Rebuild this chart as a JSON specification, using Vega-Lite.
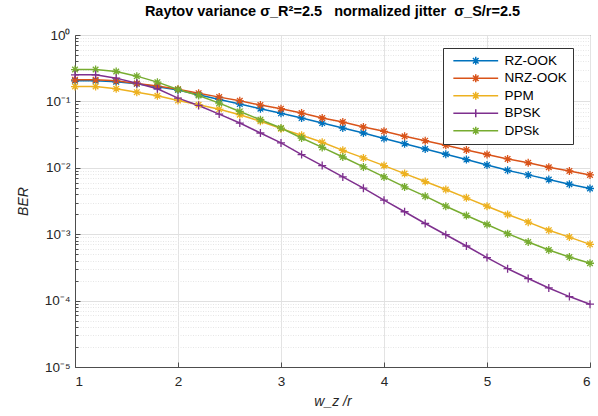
{
  "$schema": "https://vega.github.io/schema/vega-lite/v6.json",
  "width": 515,
  "height": 332,
  "padding": {"left": 16, "top": 3, "right": 5, "bottom": 5},
  "background": "white",
  "config": {
    "view": {"stroke": "#4d4d4d", "strokeWidth": 1},
    "font": "Liberation Sans",
    "axis": {"labelColor": "#262626", "titleColor": "#262626", "labelFontSize": 13.5, "domainColor": "#4d4d4d", "tickColor": "#4d4d4d"}
  },
  "title": {
    "text": "Raytov variance σ_R²=2.5\u00a0\u00a0\u00a0normalized jitter\u00a0\u00a0σ_S/r=2.5",
    "font": "Liberation Sans",
    "fontSize": 14.5,
    "fontWeight": "bold",
    "color": "#000000",
    "offset": 9
  },
  "data": {
    "values": [
      {"x": 1.0, "RZ-OOK": 0.204, "NRZ-OOK": 0.211, "PPM": 0.1675, "BPSK": 0.251, "DPSk": 0.302},
      {"x": 1.2, "RZ-OOK": 0.204, "NRZ-OOK": 0.211, "PPM": 0.1675, "BPSK": 0.251, "DPSk": 0.302},
      {"x": 1.4, "RZ-OOK": 0.197, "NRZ-OOK": 0.204, "PPM": 0.1545, "BPSK": 0.224, "DPSk": 0.282},
      {"x": 1.6, "RZ-OOK": 0.184, "NRZ-OOK": 0.186, "PPM": 0.1377, "BPSK": 0.188, "DPSk": 0.240},
      {"x": 1.8, "RZ-OOK": 0.166, "NRZ-OOK": 0.170, "PPM": 0.1213, "BPSK": 0.155, "DPSk": 0.195},
      {"x": 2.0, "RZ-OOK": 0.148, "NRZ-OOK": 0.153, "PPM": 0.1035, "BPSK": 0.112, "DPSk": 0.151},
      {"x": 2.2, "RZ-OOK": 0.126, "NRZ-OOK": 0.133, "PPM": 0.0891, "BPSK": 0.0869, "DPSk": 0.1227},
      {"x": 2.4, "RZ-OOK": 0.107, "NRZ-OOK": 0.116, "PPM": 0.0759, "BPSK": 0.0644, "DPSk": 0.0942},
      {"x": 2.6, "RZ-OOK": 0.0912, "NRZ-OOK": 0.102, "PPM": 0.0631, "BPSK": 0.0472, "DPSk": 0.0706},
      {"x": 2.8, "RZ-OOK": 0.0776, "NRZ-OOK": 0.0881, "PPM": 0.0501, "BPSK": 0.0334, "DPSk": 0.0530},
      {"x": 3.0, "RZ-OOK": 0.0661, "NRZ-OOK": 0.0776, "PPM": 0.0389, "BPSK": 0.0237, "DPSk": 0.0397},
      {"x": 3.2, "RZ-OOK": 0.0561, "NRZ-OOK": 0.0667, "PPM": 0.0309, "BPSK": 0.0158, "DPSk": 0.0281},
      {"x": 3.4, "RZ-OOK": 0.0472, "NRZ-OOK": 0.0562, "PPM": 0.0242, "BPSK": 0.0108, "DPSk": 0.0203},
      {"x": 3.6, "RZ-OOK": 0.0397, "NRZ-OOK": 0.0489, "PPM": 0.0183, "BPSK": 0.00729, "DPSk": 0.01455},
      {"x": 3.8, "RZ-OOK": 0.0334, "NRZ-OOK": 0.0411, "PPM": 0.0141, "BPSK": 0.00493, "DPSk": 0.0103},
      {"x": 4.0, "RZ-OOK": 0.0277, "NRZ-OOK": 0.0354, "PPM": 0.0108, "BPSK": 0.00325, "DPSk": 0.00729},
      {"x": 4.2, "RZ-OOK": 0.0231, "NRZ-OOK": 0.0298, "PPM": 0.00818, "BPSK": 0.00218, "DPSk": 0.00516},
      {"x": 4.4, "RZ-OOK": 0.0192, "NRZ-OOK": 0.0256, "PPM": 0.00621, "BPSK": 0.00145, "DPSk": 0.00374},
      {"x": 4.6, "RZ-OOK": 0.0160, "NRZ-OOK": 0.0218, "PPM": 0.00471, "BPSK": 0.000982, "DPSk": 0.00264},
      {"x": 4.8, "RZ-OOK": 0.0133, "NRZ-OOK": 0.0186, "PPM": 0.00353, "BPSK": 0.000664, "DPSk": 0.00191},
      {"x": 5.0, "RZ-OOK": 0.0110, "NRZ-OOK": 0.01585, "PPM": 0.00264, "BPSK": 0.000444, "DPSk": 0.00140},
      {"x": 5.2, "RZ-OOK": 0.00916, "NRZ-OOK": 0.0136, "PPM": 0.00198, "BPSK": 0.000303, "DPSk": 0.00102},
      {"x": 5.4, "RZ-OOK": 0.00782, "NRZ-OOK": 0.0119, "PPM": 0.00152, "BPSK": 0.000215, "DPSk": 0.000762},
      {"x": 5.6, "RZ-OOK": 0.00665, "NRZ-OOK": 0.0102, "PPM": 0.00115, "BPSK": 0.000155, "DPSk": 0.000578},
      {"x": 5.8, "RZ-OOK": 0.00565, "NRZ-OOK": 0.00897, "PPM": 0.000904, "BPSK": 0.000115, "DPSk": 0.000453},
      {"x": 6.0, "RZ-OOK": 0.00488, "NRZ-OOK": 0.00782, "PPM": 0.000703, "BPSK": 0.0000883, "DPSk": 0.000365}
    ]
  },
  "transform": [
    {"fold": ["RZ-OOK", "NRZ-OOK", "PPM", "BPSK", "DPSk"], "as": ["series", "ber"]}
  ],
  "encoding": {
    "x": {
      "field": "x",
      "type": "quantitative",
      "scale": {"domain": [1, 6], "nice": false, "zero": false},
      "axis": {
        "values": [1, 2, 3, 4, 5, 6],
        "format": "d",
        "title": "w_z /r",
        "titleFontStyle": "italic",
        "titleFontWeight": "normal",
        "titleFontSize": 14,
        "titlePadding": 7,
        "gridColor": "#e3e3e3",
        "tickSize": -5,
        "labelPadding": 12
      }
    },
    "y": {
      "field": "ber",
      "type": "quantitative",
      "scale": {"type": "log", "domain": [0.00001, 1], "nice": false},
      "axis": {
        "values": [0.00001, 0.00002, 0.00003, 0.00004, 0.00005, 0.00006, 0.00007, 0.00008, 0.00009,
                   0.0001, 0.0002, 0.0003, 0.0004, 0.0005, 0.0006, 0.0007, 0.0008, 0.0009,
                   0.001, 0.002, 0.003, 0.004, 0.005, 0.006, 0.007, 0.008, 0.009,
                   0.01, 0.02, 0.03, 0.04, 0.05, 0.06, 0.07, 0.08, 0.09,
                   0.1, 0.2, 0.3, 0.4, 0.5, 0.6, 0.7, 0.8, 0.9, 1],
        "labelExpr": "abs(log(datum.value)/LN10 - round(log(datum.value)/LN10)) < 0.001 ? '10' + ['⁰','⁻¹','⁻²','⁻³','⁻⁴','⁻⁵'][-round(log(datum.value)/LN10)] : ''",
        "title": "BER",
        "titleFontStyle": "italic",
        "titleFontWeight": "normal",
        "titleFontSize": 14,
        "titlePadding": 14,
        "tickSize": {"condition": {"test": "abs(log(datum.value)/LN10 - round(log(datum.value)/LN10)) < 0.001", "value": -5}, "value": -3},
        "labelPadding": 10,
        "gridColor": {"condition": {"test": "abs(log(datum.value)/LN10 - round(log(datum.value)/LN10)) < 0.001", "value": "#e0e0e0"}, "value": "#e6e6e6"},
        "gridDash": {"condition": {"test": "abs(log(datum.value)/LN10 - round(log(datum.value)/LN10)) < 0.001", "value": []}, "value": [1, 1.5]}
      }
    },
    "color": {
      "field": "series",
      "type": "nominal",
      "scale": {"domain": ["RZ-OOK", "NRZ-OOK", "PPM", "BPSK", "DPSk"], "range": ["#0072BD", "#D95319", "#EDB120", "#7E2F8E", "#77AC30"]},
      "legend": {
        "title": null,
        "orient": "none",
        "legendX": 368,
        "legendY": 13,
        "fillColor": "white",
        "strokeColor": "#333333",
        "padding": 6,
        "labelFontSize": 13.5,
        "labelColor": "#000000",
        "symbolType": "M-5.6,0L5.6,0M0,-1L0,1M-0.7,-0.7L0.7,0.7M-0.7,0.7L0.7,-0.7",
        "symbolSize": 64,
        "symbolStrokeWidth": 1.5,
        "symbolOffset": 20,
        "labelOffset": 22,
        "rowPadding": 2.5,
        "encode": {
          "symbols": {
            "update": {
              "shape": {"signal": "datum.value === 'BPSK' ? 'M-5.6,0L5.6,0M0,-1L0,1' : 'M-5.6,0L5.6,0M0,-1L0,1M-0.7,-0.7L0.7,0.7M-0.7,0.7L0.7,-0.7'"},
              "fill": {"value": "transparent"}
            }
          }
        }
      }
    }
  },
  "layer": [
    {
      "mark": {"type": "line", "strokeWidth": 1.5}
    },
    {
      "transform": [{"filter": "datum.series !== 'BPSK'"}],
      "mark": {"type": "point", "filled": false, "strokeWidth": 1.3, "size": 64, "opacity": 1, "shape": "M-1,0L1,0M0,-1L0,1M-0.7,-0.7L0.7,0.7M-0.7,0.7L0.7,-0.7"}
    },
    {
      "transform": [{"filter": "datum.series === 'BPSK'"}],
      "mark": {"type": "point", "filled": false, "strokeWidth": 1.3, "size": 64, "opacity": 1, "shape": "M-1,0L1,0M0,-1L0,1"}
    }
  ]
}
